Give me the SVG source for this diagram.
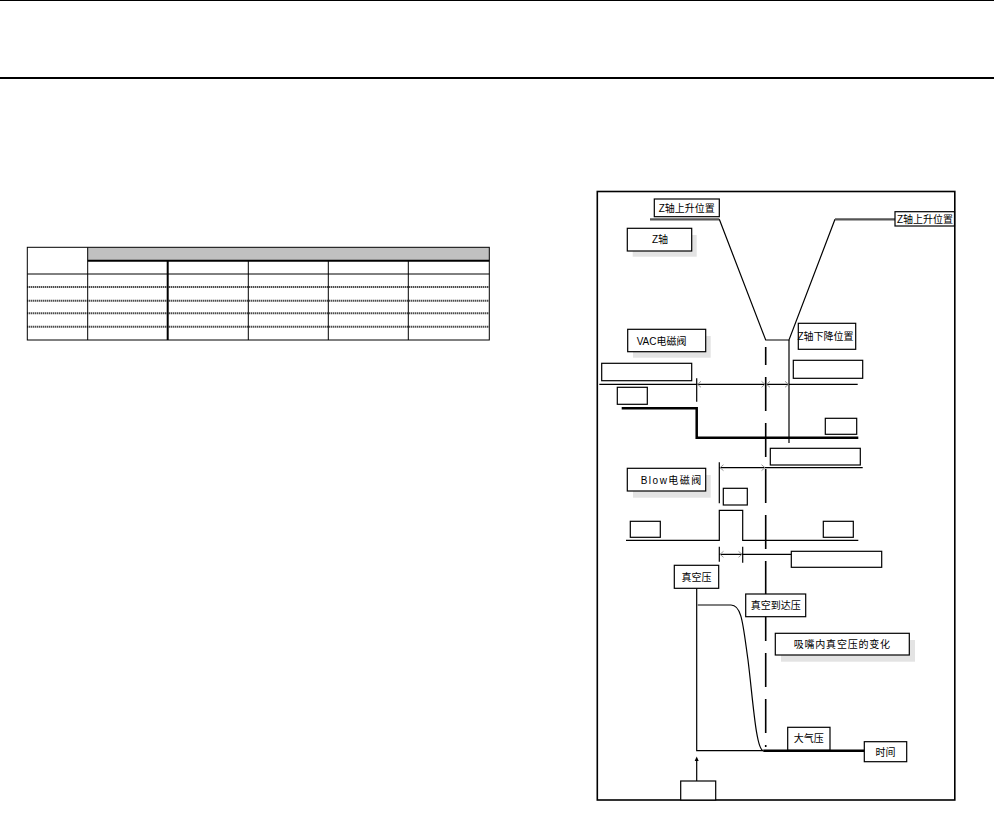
<svg xmlns="http://www.w3.org/2000/svg" width="994" height="813" viewBox="0 0 994 813">
<style>
.t{font-family:"Liberation Sans","Noto Sans CJK SC",sans-serif;font-size:10px;fill:#000}
.c{text-anchor:middle}
.box{fill:#fff;stroke:#000;stroke-width:1.2}
.sh{fill:#e3e3e3}
.ln{fill:none;stroke:#000;stroke-width:1.2}
.thk{fill:none;stroke:#000;stroke-width:2.5}
.gr{fill:none;stroke:#555;stroke-width:2.2}
.dot{fill:none;stroke:#000;stroke-width:2;stroke-dasharray:1 1}
.ah{fill:none;stroke:#999;stroke-width:1}
</style>
<rect width="994" height="813" fill="#fff"/>
<g id="page-rules">
<line x1="0" y1="0.5" x2="994" y2="0.5" stroke="#000" stroke-width="1"/>
<line x1="0" y1="78" x2="994" y2="78" stroke="#000" stroke-width="2"/>
</g>
<g id="table">
<rect x="87.7" y="247.3" width="401.6" height="13.4" fill="#c0c0c0"/>
<line class="dot" x1="27.3" y1="287" x2="489.3" y2="287"/>
<line class="dot" x1="27.3" y1="300.7" x2="489.3" y2="300.7"/>
<line class="dot" x1="27.3" y1="313.3" x2="489.3" y2="313.3"/>
<line class="dot" x1="27.3" y1="326.7" x2="489.3" y2="326.7"/>
<rect x="27.3" y="247.3" width="462" height="92.7" fill="none" stroke="#000" stroke-width="1"/>
<line x1="87.7" y1="260.7" x2="489.3" y2="260.7" stroke="#000" stroke-width="2"/>
<line x1="27.3" y1="274" x2="489.3" y2="274" stroke="#000" stroke-width="1"/>
<line x1="87.7" y1="247.3" x2="87.7" y2="340" stroke="#000" stroke-width="1"/>
<line x1="167.7" y1="260.7" x2="167.7" y2="340" stroke="#000" stroke-width="2"/>
<line x1="248.3" y1="260.7" x2="248.3" y2="340" stroke="#000" stroke-width="1"/>
<line x1="328.3" y1="260.7" x2="328.3" y2="340" stroke="#000" stroke-width="1"/>
<line x1="408.3" y1="260.7" x2="408.3" y2="340" stroke="#000" stroke-width="1"/>
</g>
<g id="frame">
<rect x="597.3" y="191.5" width="357.5" height="608.5" fill="none" stroke="#000" stroke-width="1.6"/>
</g>
<g id="connectors">
<polyline class="gr" points="650,219.3 719.3,219.3"/>
<polyline class="ln" points="719.3,219.3 765.7,340 789,340 835,219.3"/>
<polyline class="gr" points="835,219.3 895,219.3"/>
<line x1="765.7" y1="347" x2="765.7" y2="747" stroke="#000" stroke-width="1.6" stroke-dasharray="34 12" stroke-dashoffset="16"/>
<line class="ln" x1="789" y1="340" x2="789" y2="443"/>
<line class="ln" x1="599.3" y1="384.3" x2="857.7" y2="384.3"/>
<line class="ln" x1="696.7" y1="378.3" x2="696.7" y2="401.7"/>
<polyline class="ah" points="701,381.3 697.5,384.3 701,387.3"/>
<polyline class="ah" points="761.5,381.3 765,384.3 761.5,387.3"/>
<polyline class="ah" points="770,381.3 766.5,384.3 770,387.3"/>
<polyline class="ah" points="785,381.3 788.5,384.3 785,387.3"/>
<polyline class="thk" points="621.7,408.3 696.7,408.3 696.7,437.7 858.3,437.7"/>
<line class="ln" x1="719.3" y1="462.3" x2="719.3" y2="503.3"/>
<line class="ln" x1="719.3" y1="467.7" x2="862.7" y2="467.7"/>
<polyline class="ah" points="723.5,464.7 720,467.7 723.5,470.7"/>
<polyline class="ah" points="761.5,464.7 765,467.7 761.5,470.7"/>
<polyline class="ln" points="626,540.3 719.3,540.3 719.3,510.3 742.7,510.3 742.7,540.3 858.3,540.3"/>
<line class="ln" x1="719.3" y1="546.7" x2="719.3" y2="561.7"/>
<line class="ln" x1="742.7" y1="546.7" x2="742.7" y2="562.7"/>
<line class="ln" x1="719.3" y1="554.3" x2="791.7" y2="554.3"/>
<polyline class="ah" points="723.5,551.3 720,554.3 723.5,557.3"/>
<polyline class="ah" points="738.5,551.3 742,554.3 738.5,557.3"/>
<polyline class="ln" points="696.7,588.3 696.7,750.7 763.3,750.7"/>
<path class="ln" d="M697.7,605 L731,605 C742,605 743,625 748,660 C753,700 756,750 763.3,750.7"/>
<line x1="763.3" y1="750.7" x2="865" y2="750.7" stroke="#000" stroke-width="2.5"/>
<line class="ln" x1="696.7" y1="781" x2="696.7" y2="760"/>
<polygon points="694.7,761 696.7,756.5 698.7,761" fill="#000"/>
</g>
<g id="n-z-up-left">
<rect class="box" x="654.3" y="199" width="65" height="17.7"/>
<text class="t c" x="686.8" y="211.5">Z轴上升位置</text>
</g>
<g id="n-z-up-right">
<rect class="box" x="895" y="211.7" width="59.5" height="14.3"/>
<text class="t" x="897" y="222.5">Z轴上升位置</text>
</g>
<g id="n-z-axis">
<rect class="sh" x="632.7" y="235" width="64" height="21.7"/>
<rect class="box" x="627.3" y="228.3" width="64.4" height="22.7"/>
<text class="t c" x="660" y="243">Z轴</text>
</g>
<g id="n-vac">
<rect class="sh" x="633" y="336" width="77.7" height="21.7"/>
<rect class="box" x="627.7" y="329.3" width="78" height="22.4"/>
<text class="t" x="636.7" y="344.5">VAC电磁阀</text>
</g>
<g id="n-z-down">
<rect class="box" x="798.3" y="323.3" width="57.4" height="26"/>
<text class="t" x="797.5" y="339.5">Z轴下降位置</text>
</g>
<g id="n-vac-box1"><rect class="box" x="601.7" y="363.3" width="90" height="17.4"/></g>
<g id="n-vac-box2"><rect class="box" x="793.3" y="360.3" width="69.4" height="18"/></g>
<g id="n-vac-box3"><rect class="box" x="617.3" y="387.3" width="30" height="17"/></g>
<g id="n-vac-box4"><rect class="box" x="825.3" y="418.3" width="31.4" height="16"/></g>
<g id="n-vac-box5"><rect class="box" x="770.3" y="448.3" width="90" height="16.7"/></g>
<g id="n-blow">
<rect class="sh" x="633" y="475" width="77.7" height="22.7"/>
<rect class="box" x="627.3" y="468.3" width="78.4" height="22.7"/>
<text class="t" x="640.7" y="483.5" letter-spacing="1.5">Blow电磁阀</text>
</g>
<g id="n-blow-box1"><rect class="box" x="723.3" y="488.3" width="24" height="16.7"/></g>
<g id="n-blow-box2"><rect class="box" x="630.3" y="521.3" width="30" height="16"/></g>
<g id="n-blow-box3"><rect class="box" x="823.3" y="521.3" width="30" height="16"/></g>
<g id="n-blow-box4"><rect class="box" x="791.3" y="551.3" width="90.4" height="16"/></g>
<g id="n-vacuum">
<rect class="box" x="674.3" y="565.3" width="44.4" height="23"/>
<text class="t c" x="696.5" y="580.5">真空压</text>
</g>
<g id="n-vacuum-reach">
<rect class="box" x="745.7" y="594" width="60" height="22.7"/>
<text class="t c" x="775.7" y="609">真空到达压</text>
</g>
<g id="n-nozzle">
<rect class="sh" x="781" y="640" width="134" height="21.7"/>
<rect class="box" x="775.3" y="633.3" width="134" height="21.7"/>
<text class="t c" x="842.3" y="647.5" letter-spacing="0.8">吸嘴内真空压的变化</text>
</g>
<g id="n-atm">
<rect class="box" x="787.7" y="727.3" width="42.3" height="22.7"/>
<text class="t c" x="808.8" y="742">大气压</text>
</g>
<g id="n-time">
<rect class="box" x="864.3" y="741.7" width="42.4" height="20"/>
<text class="t c" x="885.5" y="755.5">时间</text>
</g>
<g id="n-bottom-box"><rect class="box" x="680.7" y="781" width="35" height="19"/></g>
</svg>
